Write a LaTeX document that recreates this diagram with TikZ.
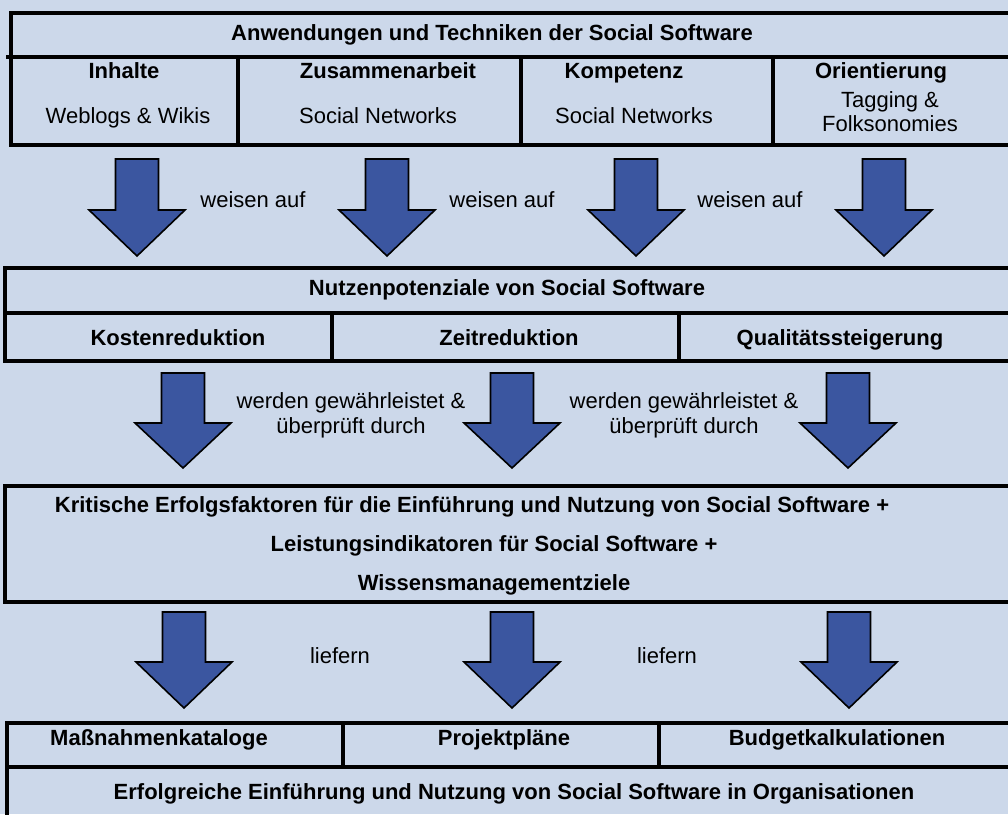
\documentclass[tikz,border=0pt]{standalone}
\usepackage{fontspec}
\setmainfont{Liberation Sans}
\definecolor{bg}{HTML}{CCD8EA}
\definecolor{arrowblue}{HTML}{3B56A0}
% block arrow pointing down: centre x, top, shoulder, tip
\newcommand\downblock[4]{%
  \draw[blockarrow] (#1-21.5,#2) -- (#1+21.5,#2) -- (#1+21.5,#3) -- (#1+48,#3)
    -- (#1,#4) -- (#1-48,#3) -- (#1-21.5,#3) -- cycle;}
\begin{document}
\begin{tikzpicture}[x=1pt,y=-1pt,
  frame/.style={line width=3.2pt, draw=black, line cap=rect},
  txt/.style={anchor=base, inner sep=0pt, align=center, font=\fontsize{22}{24}\selectfont},
  btxt/.style={txt, font=\fontsize{22}{24}\selectfont\bfseries},
  blockarrow/.style={fill=arrowblue, draw=black, line width=1.6pt, line join=miter}]
\path[use as bounding box, fill=bg] (0,0) rectangle (1008,814);
\clip (0,0) rectangle (1008,814);

% --- applications and techniques
\draw[frame] (11,13) rectangle (1030,145);
\draw[frame] (8,57) -- (1030,57);
\draw[frame] (238,57) -- (238,145);
\draw[frame] (521,57) -- (521,145);
\draw[frame] (773,57) -- (773,145);
\node[btxt] (apps) at (492,40) {Anwendungen und Techniken der Social Software};
\node[btxt] (inh) at (124,78) {Inhalte};
\node[btxt] (zus) at (388,78) {Zusammenarbeit};
\node[btxt] (kom) at (624,78) {Kompetenz};
\node[btxt] (ori) at (881,78) {Orientierung};
\node[txt] (wiki) at (128,123) {Weblogs \& Wikis};
\node[txt] (sn1) at (378,123) {Social Networks};
\node[txt] (sn2) at (634,123) {Social Networks};
\node[txt] (tag) at (890,107) {Tagging \&};
\node[txt] (folk) at (890,131) {Folksonomies};

% --- arrows row 1
\downblock{137}{159}{210}{256}
\downblock{387}{159}{210}{256}
\downblock{636}{159}{210}{256}
\downblock{884}{159}{210}{256}
\node[txt] (wa1) at (253,207) {weisen auf};
\node[txt] (wa2) at (502,207) {weisen auf};
\node[txt] (wa3) at (750,207) {weisen auf};

% --- benefits
\draw[frame] (5,268) rectangle (1030,361);
\draw[frame] (5,313) -- (1030,313);
\draw[frame] (332,313) -- (332,361);
\draw[frame] (679,313) -- (679,361);
\node[btxt] (nutz) at (507,295) {Nutzenpotenziale von Social Software};
\node[btxt] (kost) at (178,345) {Kostenreduktion};
\node[btxt] (zeit) at (509,345) {Zeitreduktion};
\node[btxt] (qual) at (840,345) {Qualitätssteigerung};

% --- arrows row 2
\downblock{183}{373}{423}{468}
\downblock{512}{373}{423}{468}
\downblock{848}{373}{423}{468}
\node[txt] (wg1) at (351,408) {werden gewährleistet \&};
\node[txt] (up1) at (351,433) {überprüft durch};
\node[txt] (wg2) at (684,408) {werden gewährleistet \&};
\node[txt] (up2) at (684,433) {überprüft durch};

% --- success factors
\draw[frame] (5,486) rectangle (1030,602);
\node[btxt] (ksf) at (472,512) {Kritische Erfolgsfaktoren für die Einführung und Nutzung von Social Software +};
\node[btxt] (lei) at (494,551) {Leistungsindikatoren für Social Software +};
\node[btxt] (wmz) at (494,590) {Wissensmanagementziele};

% --- arrows row 3
\downblock{184}{612}{662}{708}
\downblock{512}{612}{662}{708}
\downblock{849}{612}{662}{708}
\node[txt] (lf1) at (340,663) {liefern};
\node[txt] (lf2) at (667,663) {liefern};

% --- results
\draw[frame] (7,723) rectangle (1030,830);
\draw[frame] (7,767) -- (1030,767);
\draw[frame] (343,723) -- (343,767);
\draw[frame] (659,723) -- (659,767);
\node[btxt] (mass) at (159,745) {Maßnahmenkataloge};
\node[btxt] (proj) at (504,745) {Projektpläne};
\node[btxt] (budg) at (837,745) {Budgetkalkulationen};
\node[btxt] (erf) at (514,799) {Erfolgreiche Einführung und Nutzung von Social Software in Organisationen};
\end{tikzpicture}
\end{document}
